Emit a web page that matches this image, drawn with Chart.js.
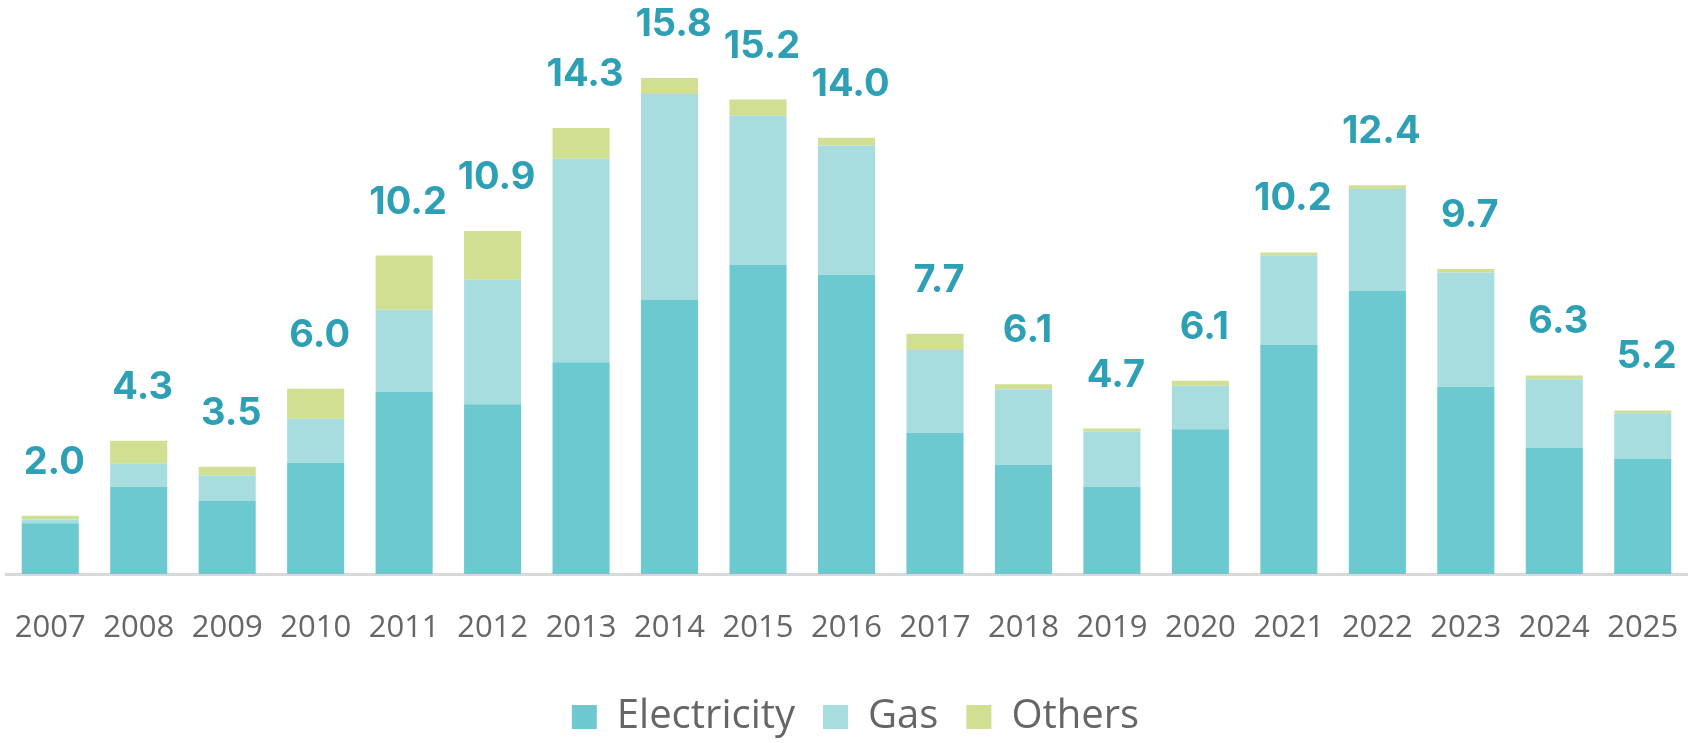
<!DOCTYPE html>
<html>
<head>
<meta charset="utf-8">
<script src="https://cdn.jsdelivr.net/npm/chart.js@4.4.1/dist/chart.umd.min.js"></script>
<style>
  html, body { margin: 0; padding: 0; background: #ffffff; }
  #wrap { width: 1695px; height: 743px; }
</style>
</head>
<body>
<div id="wrap"><canvas id="c" width="1695" height="743"></canvas></div>
<script>
const years = ['2007','2008','2009','2010','2011','2012','2013','2014','2015','2016','2017','2018','2019','2020','2021','2022','2023','2024','2025'];
const electricity = [1.62, 2.78, 2.33, 3.55, 5.82, 5.43, 6.77, 8.78, 9.88, 9.57, 4.51, 3.49, 2.78, 4.63, 7.33, 9.05, 5.99, 4.04, 3.68];
const gas         = [0.12, 0.76, 0.82, 1.41, 2.63, 3.98, 6.51, 6.57, 4.77, 4.13, 2.65, 2.42, 1.78, 1.39, 2.86, 3.26, 3.65, 2.19, 1.46];
const others      = [0.12, 0.72, 0.28, 0.96, 1.73, 1.56, 0.98, 0.51, 0.52, 0.25, 0.52, 0.16, 0.09, 0.16, 0.09, 0.12, 0.11, 0.12, 0.09];
const totalLabels = ['2.0','4.3','3.5','6.0','10.2','10.9','14.3','15.8','15.2','14.0','7.7','6.1','4.7','6.1','10.2','12.4','9.7','6.3','5.2'];

const FONT = '"Open Sans", "Liberation Sans", sans-serif';
const LABEL_FONT = 'Inter, "Open Sans", sans-serif';

const totalsPlugin = {
  id: 'totals',
  afterDatasetsDraw(chart) {
    const ctx = chart.ctx;
    const last = chart.getDatasetMeta(chart.data.datasets.length - 1);
    ctx.save();
    ctx.font = 'bold 38px ' + LABEL_FONT;
    ctx.fillStyle = '#2EA0B5';
    ctx.textAlign = 'center';
    ctx.textBaseline = 'alphabetic';
    last.data.forEach((bar, i) => {
      ctx.fillText(totalLabels[i], bar.x + 4, bar.y - 42);
    });
    ctx.restore();
  }
};

const legendShift = {
  id: 'legendShift',
  afterLayout(chart) {
    if (chart.legend) { chart.legend.left += 9; chart.legend.right += 9; }
  }
};

new Chart(document.getElementById('c'), {
  type: 'bar',
  data: {
    labels: years,
    datasets: [
      { label: 'Electricity', data: electricity, backgroundColor: '#6CC9CF' },
      { label: 'Gas', data: gas, backgroundColor: '#A8DDE0' },
      { label: 'Others', data: others, backgroundColor: '#D0DF91' }
    ]
  },
  options: {
    responsive: false,
    animation: false,
    maintainAspectRatio: false,
    layout: { autoPadding: false, padding: { top: 11, left: 6, right: 8, bottom: -4 } },
    datasets: { bar: { barPercentage: 1, categoryPercentage: 0.645, borderWidth: 0 } },
    scales: {
      x: {
        stacked: true,
        grid: { display: false, drawTicks: false },
        border: { display: true, color: '#D9D9D9', width: 3 },
        ticks: { color: '#666666', font: { family: FONT, size: 31 }, padding: 36, maxRotation: 0, autoSkip: false },
        afterFit: (s) => { s.height = 95; s.paddingLeft = 0; s.paddingRight = 0; }
      },
      y: {
        stacked: true,
        display: false,
        min: 0,
        max: 18
      }
    },
    plugins: {
      legend: {
        position: 'bottom',
        labels: {
          color: '#666666',
          font: { family: FONT, size: 40 },
          boxWidth: 25,
          boxHeight: 24,
          padding: 28
        }
      },
      tooltip: { enabled: false }
    }
  },
  plugins: [totalsPlugin, legendShift]
});
</script>
</body>
</html>
